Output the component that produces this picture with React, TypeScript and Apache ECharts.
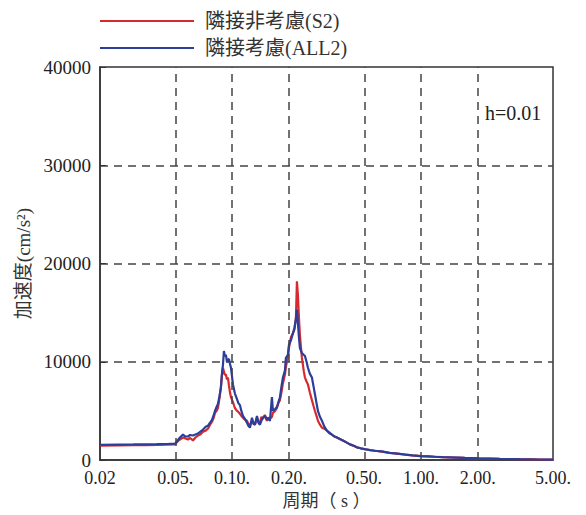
import React, { useEffect, useRef } from 'react';
import * as echarts from 'echarts';

// Period (s)
const periods = [
  0.020, 0.025, 0.030, 0.035, 0.040, 0.045, 0.0499, 0.0515, 0.0530, 0.0550,
  0.0567, 0.0584, 0.0600, 0.0621, 0.0640, 0.0660, 0.0680, 0.0702, 0.0725, 0.0746,
  0.0765, 0.0783, 0.0800, 0.0812, 0.0828, 0.0842, 0.0858, 0.0873, 0.0884, 0.0895,
  0.0906, 0.0915, 0.0928, 0.0940, 0.0951, 0.0963, 0.0975, 0.0987, 0.1011, 0.1035,
  0.1062, 0.1080, 0.1101, 0.1120, 0.1142, 0.1170, 0.1199, 0.1220, 0.1244, 0.1275,
  0.1300, 0.1322, 0.1355, 0.1380, 0.1405, 0.1430, 0.1457, 0.1493, 0.1530, 0.1549,
  0.1587, 0.1626, 0.1646, 0.1690, 0.1728, 0.1760, 0.1793, 0.1830, 0.1859, 0.1905,
  0.1928, 0.1976, 0.2000, 0.2050, 0.2100, 0.2140, 0.2178, 0.2205, 0.2232, 0.2260,
  0.2287, 0.2343, 0.2400, 0.2431, 0.2480, 0.2522, 0.2580, 0.2647, 0.2700, 0.2747,
  0.2800, 0.2849, 0.2920, 0.2991, 0.3080, 0.3178, 0.3280, 0.3377, 0.3480, 0.3589,
  0.3720, 0.3861, 0.4030, 0.4206, 0.4400, 0.4580, 0.4800, 0.5050, 0.5400, 0.5700,
  0.6200, 0.6840, 0.7500, 0.8220, 0.9000, 0.9990, 1.0900, 1.1840, 1.3000, 1.4220,
  1.7070, 2.0200, 2.6100, 3.3400, 4.2600, 5.0000,
];

// 隣接非考慮(S2)
const accS2 = [
  1480, 1500, 1510, 1530, 1550, 1580, 1600, 1900, 2100, 2300,
  2200, 2100, 2250, 2000, 2300, 2500, 2600, 2900, 3000, 3200,
  3600, 3900, 4300, 4800, 5000, 5300, 6300, 7400, 8600, 9400,
  9000, 8700, 8700, 8200, 8400, 7600, 6900, 6400, 5900, 5300,
  5000, 4900, 4700, 4500, 4300, 4100, 4000, 3700, 3500, 4000,
  3700, 3600, 4300, 3900, 3800, 4400, 4200, 4600, 4000, 4300,
  4200, 4400, 4800, 5000, 5300, 5800, 6100, 7000, 7800, 8700,
  9500, 10500, 11400, 12500, 12900, 13500, 14400, 18200, 16800, 14500,
  12700, 10400, 9000, 8400, 8000, 7700, 6900, 6100, 5500, 5000,
  4500, 4000, 3600, 3300, 3200, 3000, 2700, 2600, 2400, 2300,
  2150, 2000, 1800, 1600, 1450, 1300, 1200, 1100, 1000, 950,
  870, 720, 650, 560, 480, 400, 370, 340, 300, 270,
  220, 180, 130, 90, 60, 50,
];

// 隣接考慮(ALL2)
const accALL2 = [
  1560, 1580, 1590, 1600, 1620, 1640, 1680, 2000, 2300, 2600,
  2400, 2400, 2550, 2500, 2600, 2700, 2900, 3100, 3400, 3500,
  3800, 4100, 4600, 5000, 5400, 5700, 6500, 7400, 8800, 9700,
  11100, 10600, 10700, 10000, 10200, 10300, 9800, 9400, 7700, 6800,
  6200, 5800, 5600, 5000, 4500, 4200, 3800, 3500, 3300, 4300,
  3700, 3600, 4500, 3800, 3600, 4000, 4300, 4500, 4100, 4300,
  4000, 6400, 5000, 5200, 5400, 5900, 6400, 7600, 8400, 9100,
  10400, 10700, 11700, 12200, 12900, 13300, 14400, 15300, 13900, 12500,
  11400, 10900, 10700, 10600, 10000, 9400, 8800, 8400, 7500, 6700,
  5800, 5000, 4400, 4000, 3400, 3000, 2800, 2600, 2400, 2300,
  2150, 2000, 1800, 1600, 1450, 1300, 1200, 1120, 1020, 950,
  880, 730, 650, 570, 490, 410, 380, 340, 300, 280,
  220, 180, 130, 90, 60, 50,
];

const seriesNames = ['隣接非考慮(S2)', '隣接考慮(ALL2)'];
const xTickValues = [0.02, 0.05, 0.1, 0.2, 0.5, 1, 2, 5];
const xTickLabels = ['0.02', '0.05.', '0.10.', '0.20.', '0.50.', '1.00.', '2.00.', '5.00.'];
const xGridPeriods = [0.05, 0.1, 0.2, 0.5, 1, 2];

const FONT = "'Liberation Serif', 'Noto Sans CJK JP', serif";
const DASH = [8, 6];

export default function App() {
  const ref = useRef<HTMLDivElement>(null);

  useEffect(() => {
    if (!ref.current) return;
    const chart = echarts.init(ref.current, undefined, { renderer: 'svg' });
    const lg = (v: number) => Math.log10(v);

    const option: any = {
      animation: false,
      backgroundColor: '#ffffff',
      textStyle: { fontFamily: FONT },
      grid: {
        left: 100,
        top: 67,
        right: 33,
        bottom: 52,
        show: true,
        borderColor: '#333',
        borderWidth: 1.5,
        backgroundColor: 'transparent',
      },
      legend: {
        data: seriesNames,
        orient: 'vertical',
        left: 95,
        top: 6,
        itemWidth: 94,
        itemHeight: 2,
        itemGap: 7,
        icon: 'rect',
        textStyle: {
          fontFamily: FONT,
          fontSize: 20,
          color: '#333',
          padding: [0, 0, 0, 6],
        },
      },
      xAxis: {
        type: 'value',
        min: lg(0.02),
        max: lg(5),
        name: '周期（ s ）',
        nameLocation: 'middle',
        nameGap: 28,
        nameTextStyle: { fontFamily: FONT, fontSize: 18, color: '#333' },
        axisLine: { show: true, onZero: false, lineStyle: { color: '#333', width: 1.5 } },
        axisTick: { show: false },
        splitLine: { show: false },
        axisLabel: {
          customValues: xTickValues.map(lg),
          fontFamily: FONT,
          fontSize: 18,
          color: '#222',
          margin: 9,
          formatter: (v: number) => {
            const i = xTickValues.findIndex((t) => Math.abs(lg(t) - v) < 1e-6);
            return i >= 0 ? xTickLabels[i] : '';
          },
        },
      },
      yAxis: {
        type: 'value',
        min: 0,
        max: 40000,
        interval: 10000,
        name: '加速度(cm/s²)',
        nameLocation: 'middle',
        nameGap: 60,
        nameTextStyle: { fontFamily: FONT, fontSize: 19, color: '#333' },
        axisLine: { show: true, onZero: false, lineStyle: { color: '#333', width: 1.5 } },
        axisTick: { show: true, inside: true, length: 6, lineStyle: { color: '#333' } },
        axisLabel: {
          fontFamily: FONT,
          fontSize: 19,
          color: '#222',
          margin: 9,
          formatter: (v: number) => String(v),
        },
        splitLine: {
          show: true,
          showMinLine: false,
          showMaxLine: false,
          lineStyle: { color: '#444', width: 1.5, type: DASH },
        },
      },
      graphic: [
        {
          type: 'text',
          left: 485,
          top: 103,
          style: { text: 'h=0.01', font: `20px ${FONT}`, fill: '#222' },
        },
      ],
      series: [
        {
          type: 'line',
          name: '_grid',
          data: [],
          silent: true,
          z: 1,
          markLine: {
            silent: true,
            symbol: ['none', 'none'],
            label: { show: false },
            lineStyle: { color: '#444', width: 1.5, type: DASH },
            data: xGridPeriods.map((p) => ({ xAxis: lg(p) })),
          },
        },
        {
          type: 'line',
          name: seriesNames[0],
          data: periods.map((p, i) => [lg(p), accS2[i]]),
          showSymbol: false,
          symbol: 'none',
          color: '#d42a30',
          lineStyle: { color: '#d42a30', width: 2.2 },
          z: 2,
        },
        {
          type: 'line',
          name: seriesNames[1],
          data: periods.map((p, i) => [lg(p), accALL2[i]]),
          showSymbol: false,
          symbol: 'none',
          color: '#2b3e9a',
          lineStyle: { color: '#2b3e9a', width: 2.2 },
          z: 3,
        },
      ],
    };

    chart.setOption(option);
    return () => chart.dispose();
  }, []);

  return (
    <div
      ref={ref}
      style={{ position: 'fixed', left: 0, top: 0, width: 586, height: 515, background: '#fff' }}
    />
  );
}
